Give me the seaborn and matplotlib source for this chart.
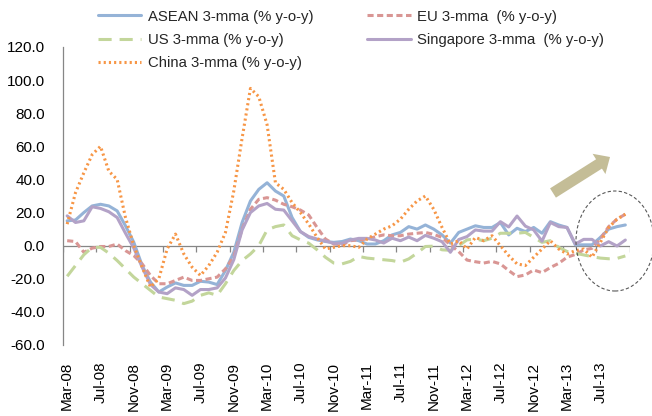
import numpy as np
import pandas as pd
import matplotlib
matplotlib.use("Agg")
import matplotlib.pyplot as plt
from matplotlib.lines import Line2D
from matplotlib.patches import FancyArrow, Ellipse
from matplotlib.transforms import IdentityTransform
from matplotlib.ticker import FormatStrFormatter
import seaborn as sns

# Monthly categories, Mar-08 .. Oct-13
months = pd.date_range("2008-03-01", "2013-10-01", freq="MS").strftime("%b-%y").tolist()
tick_labels = ["Mar-08", "Jul-08", "Nov-08", "Mar-09", "Jul-09", "Nov-09",
               "Mar-10", "Jul-10", "Nov-10", "Mar-11", "Jul-11", "Nov-11",
               "Mar-12", "Jul-12", "Nov-12", "Mar-13", "Jul-13"]

asean = [15, 15.5, 20, 24, 25, 24, 21, 12, 2, -12,
         -22, -28, -25, -22.5, -24, -24, -21.5, -22, -23.5, -15,
         -4, 14, 27, 34, 38, 33, 30, 17, 8.5, 5,
         3.5, 2.5, 2, 2.5, 4, 3, 1, 1, 3, 6.5,
         8, 11.5, 10, 12.5, 10, 6.5, 1.5, 8, 10, 12,
         11, 11, 14, 6.5, 10.5, 8.5, 11, 7.5, 14.5, 12.5,
         11, 0.5, 0.5, 0.5, 5, 10, 11.5, 12.5]

eu = [3, 2.5, -4, -1.5, -0.5, -0.5, 1, -3, -6, -11,
      -18, -23, -23, -21, -19, -21, -21, -20, -19, -14,
      -6.5, 10, 22, 28, 29, 27.5, 25, 23.5, 21.5, 18.5,
      11, 4, 1, 0.5, 3, 3.5, 4, 5.4, 6.5, 6,
      6, 7, 7.5, 8, 6.8, 5, 0.4, -3.6, -8.7, -9.7,
      -10.5, -9.5, -11, -15, -18.7, -17.7, -14.7, -16.3, -13.2, -10.7,
      -7, -5.3, -2.6, -1.6, 4, 11.5, 16, 19]

us = [-18.5, -12, -5.5, -1, -1, -4.5, -9, -14, -19, -23,
      -27, -31, -32, -33, -35, -33.5, -30, -28.5, -30, -23,
      -15, -9, -5, 0, 9.5, 11.5, 12.5, 6, 3.5, 1.5,
      -2.5, -7, -10.5, -11, -9.5, -6.5, -7.5, -8, -8.5, -9,
      -10, -8, -4.5, -0.5, -0.3, -2.5, -2.8, 0, 3.5, 4,
      3, 4.5, 7.5, 7.5, 7.5, 8, 5, 2, 3, -1,
      -3.5, -4.6, -5.6, -6.6, -7.5, -7.9, -7.7, -6.2]

singapore = [18, 14, 15, 23.5, 22.5, 20.5, 17, 7.5, -1.5, -13,
             -23.5, -28, -29, -25.5, -26.5, -30, -26.5, -26.5, -25.5, -19.5,
             -8.5, 9.5, 20, 24, 25.5, 22, 21.5, 15, 8.5, 5.5,
             4, 2.8, 1.4, 1.4, 3.4, 4.4, 4.4, 3.4, 1.6, 4.5,
             3, 5.2, 3, 6.2, 4.5, 2.4, -4, 3.7, 5.5, 9.5,
             8.8, 8.8, 14.5, 11.3, 17.9, 11.8, 9.5, 2.7, 14, 11.5,
             11, 1, 3.8, 3.8, -0.2, 2.4, -0.2, 3.4]

china = [13, 32, 44, 55, 60, 45, 40, 17, 0, -13,
         -25, -20, -2, 7, -5, -13, -18, -12, -4, 8,
         33, 65, 95, 90, 73, 38, 34, 26, 20, 13,
         5, -2, -1, 0, 0, -1, 4, 7, 10, 12,
         16, 22, 27, 30, 22, 11, 1, 3, -2, 5,
         3, 6, 0, -6, -11, -12, -7, -2, 3, -2,
         -5, -3, -2, -7, 2, 11, 16, 19]

series_names = ["ASEAN 3-mma (% y-o-y)", "EU 3-mma  (% y-o-y)", "US 3-mma (% y-o-y)",
                "Singapore 3-mma  (% y-o-y)", "China 3-mma (% y-o-y)"]
series_values = [asean, eu, us, singapore, china]
colors = ["#95B3D7", "#D99694", "#C3D69B", "#B3A2C7", "#F79646"]
dash_styles = ["", (2.0, 1.15), (4.3, 2.6), "", (0.7, 1.0)]

frames = []
for name, vals in zip(series_names, series_values):
    frames.append(pd.DataFrame({"idx": np.arange(len(months)), "month": months,
                                "value": vals, "series": name}))
df = pd.concat(frames, ignore_index=True)

sns.set_style("white")
plt.rcParams["font.family"] = ["Liberation Sans", "DejaVu Sans"]

W, H = 652, 416
fig = plt.figure(figsize=(W / 100, H / 100), dpi=100)
ax = fig.add_axes([63 / W, (H - 345) / H, (629.5 - 63) / W, (345 - 47) / H])

LW = 2.2
sns.lineplot(data=df, x="idx", y="value", hue="series", style="series",
             hue_order=series_names, style_order=series_names,
             palette=dict(zip(series_names, colors)),
             dashes=dict(zip(series_names, dash_styles)),
             linewidth=LW, legend=False, ax=ax, sort=False)
for ln in ax.get_lines():
    ln.set_dash_capstyle("butt")

ax.set_xlim(-0.5, len(months) - 0.5)
ax.set_ylim(-60, 120)
ax.set_yticks(np.arange(-60, 121, 20))
ax.yaxis.set_major_formatter(FormatStrFormatter("%.1f"))
ax.set_xticks(np.arange(0, len(months), 4))
ax.set_xticklabels(tick_labels, rotation=90)
ax.set_xlabel("")
ax.set_ylabel("")

axis_grey = "#868686"
for side in ["top", "right", "bottom"]:
    ax.spines[side].set_visible(False)
ax.spines["left"].set_color(axis_grey)
ax.spines["left"].set_linewidth(0.9)
ax.tick_params(axis="y", direction="out", length=5, width=0.9, color=axis_grey,
               pad=8, labelsize=11, labelcolor="black")
ax.tick_params(axis="x", length=0, pad=12, labelsize=11, labelcolor="black")
ax.grid(False)

# category axis crossing at zero, with tick marks every four months
ax.axhline(0, color=axis_grey, lw=0.9, zorder=1)
ax.vlines(np.arange(-0.5, len(months), 4), 1 / 3 - 6 / 298, 1 / 3,
          transform=ax.get_xaxis_transform(), color=axis_grey, lw=0.9, zorder=1)

# legend: two columns, no frame
handles = [Line2D([], [], color=c, lw=LW, dashes=d if d else (None, None),
                  dash_capstyle="butt") for c, d in zip(colors, dash_styles)]
order = [0, 2, 4, 1, 3]
fig.legend([handles[i] for i in order], [series_names[i] for i in order],
           ncol=2, loc="upper left", bbox_to_anchor=(98 / W, 1 - 9.5 / H),
           frameon=False, fontsize=10.75, handlelength=2.9, handletextpad=0.45,
           columnspacing=3.6, labelspacing=0.63, borderpad=0, borderaxespad=0)

# trend arrow and highlight ellipse
arrow = FancyArrow(553, H - 193, 57, 36, width=11, head_width=24, head_length=13,
                   length_includes_head=True, color="#C4BD97", lw=0,
                   transform=IdentityTransform())
fig.add_artist(arrow)
ell = Ellipse((615, H - 241), 78, 100, fill=False, ec="#595959", lw=0.8,
              ls=(0, (3, 2)), transform=IdentityTransform())
fig.add_artist(ell)

fig.savefig("out.png", dpi=100)
